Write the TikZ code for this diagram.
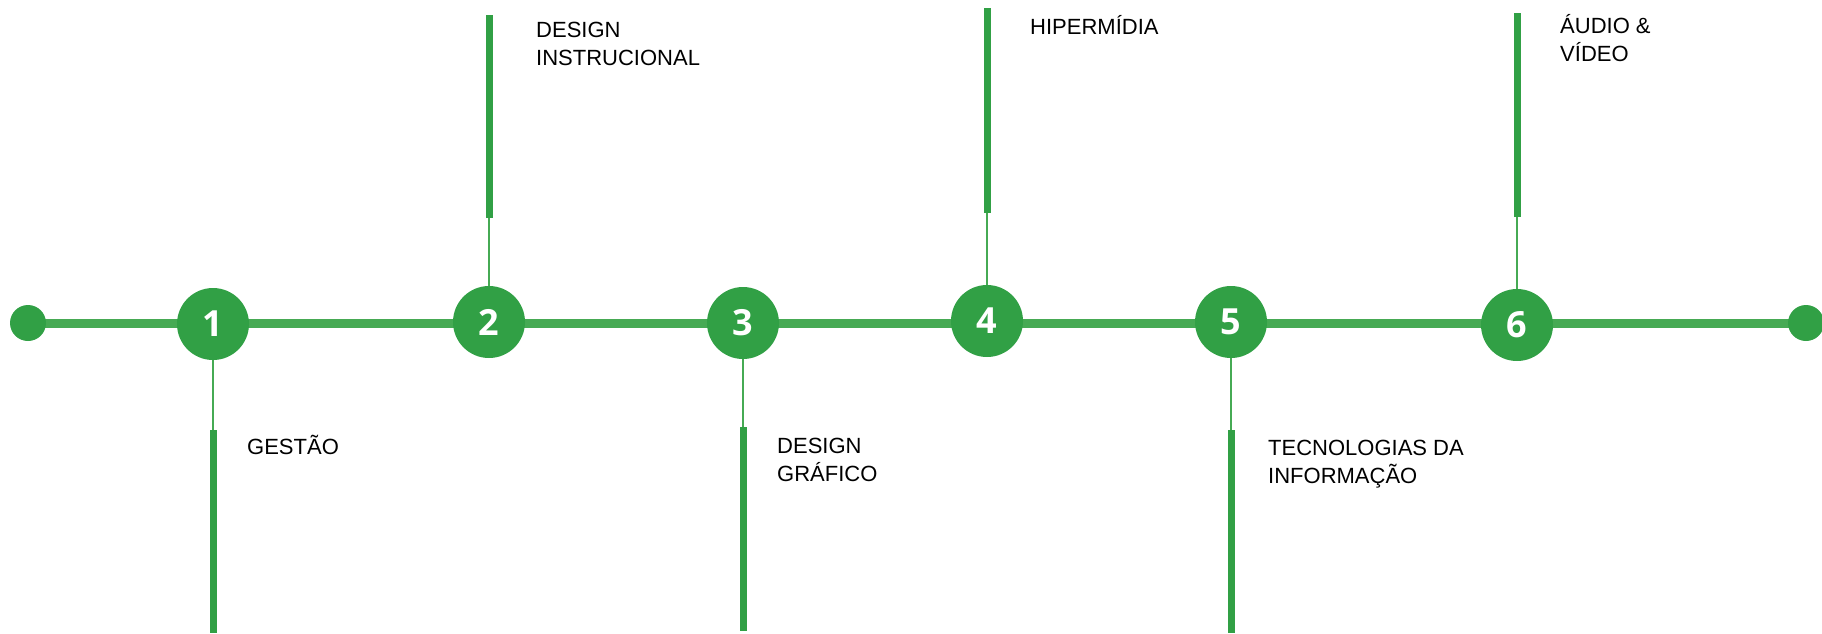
\documentclass[tikz,border=0pt]{standalone}
\usepackage{fontspec}
\usetikzlibrary{backgrounds}
\setmainfont{Liberation Sans}
\newfontfamily\numfont{Open Sans}
\definecolor{cgreen}{RGB}{49,160,69}
\definecolor{lgreen}{RGB}{70,170,84}
\begin{document}
\begin{tikzpicture}[x=1pt,y=-1pt,
  stepcirc/.style={circle,fill=cgreen,minimum size=72pt,inner sep=0pt,text=white,font=\numfont\bfseries\fontsize{36}{36}\selectfont},
  enddot/.style={circle,fill=cgreen,minimum size=36pt,inner sep=0pt},
  mainline/.style={lgreen,line width=9pt},
  thinline/.style={lgreen,line width=2pt},
  bar/.style={cgreen,line width=7pt},
  lbl/.style={anchor=base west,inner sep=0pt,align=left,font=\fontsize{22}{28}\selectfont}]
\useasboundingbox (0,0) rectangle (1822,633);
% end dots and circles
\node[enddot] (l) at (28,323) {};
\node[enddot] (r) at (1806,323) {};
\node[stepcirc] (c1) at (213,324) {1};
\node[stepcirc] (c2) at (489,322) {2};
\node[stepcirc] (c3) at (743,323) {3};
\node[stepcirc] (c4) at (987,321) {4};
\node[stepcirc] (c5) at (1231,322) {5};
\node[stepcirc] (c6) at (1517,325) {6};
% coordinates of bar ends
\coordinate (b1a) at (213,430); \coordinate (b1b) at (213,633);
\coordinate (b2a) at (489,218); \coordinate (b2b) at (489,15);
\coordinate (b3a) at (743,427); \coordinate (b3b) at (743,631);
\coordinate (b4a) at (987,213); \coordinate (b4b) at (987,8);
\coordinate (b5a) at (1231,430); \coordinate (b5b) at (1231,633);
\coordinate (b6a) at (1517,217); \coordinate (b6b) at (1517,13);
% main line and connectors, under the circles
\begin{scope}[on background layer]
\draw[mainline] (l.center) -- (r.center);
\end{scope}
\draw[thinline] (c1.south) -- (b1a);
\draw[thinline] (c2.north) -- (b2a);
\draw[thinline] (c3.south) -- (b3a);
\draw[thinline] (c4.north) -- (b4a);
\draw[thinline] (c5.south) -- (b5a);
\draw[thinline] (c6.north) -- (b6a);
\draw[bar] (b1a) -- (b1b);
\draw[bar] (b2a) -- (b2b);
\draw[bar] (b3a) -- (b3b);
\draw[bar] (b4a) -- (b4b);
\draw[bar] (b5a) -- (b5b);
\draw[bar] (b6a) -- (b6b);
% labels
\node[lbl] (t1) at (247,454) {GESTÃO};
\node[lbl] (t2) at (536,65) {DESIGN\\INSTRUCIONAL};
\node[lbl] (t3) at (777,481) {DESIGN\\GRÁFICO};
\node[lbl] (t4) at (1030,34) {HIPERMÍDIA};
\node[lbl] (t5) at (1268,483) {TECNOLOGIAS DA\\INFORMAÇÃO};
\node[lbl] (t6) at (1560,61) {ÁUDIO \&\\VÍDEO};
\end{tikzpicture}
\end{document}
